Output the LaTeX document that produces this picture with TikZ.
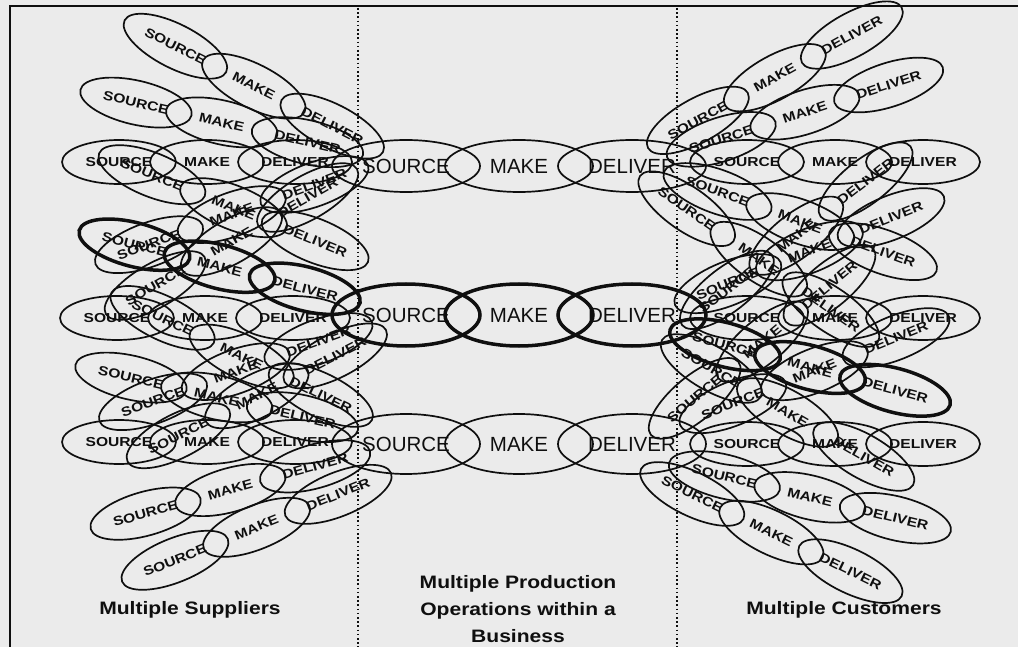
\documentclass[tikz,border=0pt]{standalone}
\usepackage{fontspec}
\setmainfont{Liberation Sans}
\newfontfamily\ringfont{Liberation Sans}[FakeStretch=1.2]
\newfontfamily\labelfont{Liberation Sans}[FakeStretch=1.17]
\usetikzlibrary{shapes.geometric}

\definecolor{paper}{RGB}{235,235,235}
\definecolor{ink}{RGB}{15,15,15}

\tikzset{
  inkline/.style={draw=ink, line width=1.7pt},
  ring/.style={inkline, ellipse, minimum width=114pt, minimum height=44pt, inner sep=0pt,
    text=ink, font=\ringfont\bfseries\fontsize{13}{13}\selectfont},
  heavy/.style={line width=3.5pt},
  core/.style={inkline, ellipse, minimum width=148pt, minimum height=60pt, inner sep=0pt,
    text=ink, font=\fontsize{20.5}{22}\selectfont},
  caption/.style={text=ink, align=center, font=\labelfont\bfseries\fontsize{18}{27}\selectfont},
  dotline/.style={draw=ink, line width=1.7pt, dash pattern=on 1.6pt off 2.6pt},
}

% supplier-side chain: the DELIVER link ends at the pivot (#2,#3), chain tilted by #4
\newcommand\supplychain[5]{%
  \begin{scope}[shift={(#2,#3)}, rotate=#4, transform shape]
    \node[ring,#5] (#1d) at (-57,0) {DELIVER};
    \node[ring,#5] (#1m) at (-145,0) {MAKE};
    \node[ring,#5] (#1s) at (-233,0) {SOURCE};
  \end{scope}}
% customer-side chain: the SOURCE link starts at the pivot (#2,#3), chain tilted by #4
\newcommand\customerchain[5]{%
  \begin{scope}[shift={(#2,#3)}, rotate=#4, transform shape]
    \node[ring,#5] (#1s) at (57,0) {SOURCE};
    \node[ring,#5] (#1m) at (145,0) {MAKE};
    \node[ring,#5] (#1d) at (233,0) {DELIVER};
  \end{scope}}

\begin{document}
\begin{tikzpicture}[x=1pt, y=-1pt]
  \useasboundingbox (0,0) rectangle (1018,647);
  \fill[paper] (0,0) rectangle (1018,647);

  % frame
  \coordinate (fbl) at (10,647);
  \coordinate (ftl) at (10,6);
  \coordinate (ftr) at (1018,6);
  \draw[ink, line width=1.8pt] (fbl) -- (ftl) -- (ftr);

  % column separators
  \coordinate (d1t) at (358,8);   \coordinate (d1b) at (358,647);
  \coordinate (d2t) at (677,8);   \coordinate (d2b) at (677,647);
  \draw[dotline] (d1t) -- (d1b);
  \draw[dotline] (d2t) -- (d2b);

  % supplier fans
  \supplychain{La}{383}{152}{-27}{}
  \supplychain{Lb}{363}{155}{-13}{}
  \supplychain{Lc}{352}{162}{0}{}
  \supplychain{Ld}{368}{165}{20}{}
  \supplychain{Le}{357}{169}{30}{}

  \supplychain{Lf}{368}{262}{-22}{}
  \supplychain{Lg}{350}{318}{0}{}
  \supplychain{Lh}{372}{322}{20}{}
  \supplychain{Li}{386}{330}{27}{}

  \supplychain{Lj}{358}{430}{-13}{}
  \supplychain{Lk}{372}{420}{-26}{}
  \supplychain{Ll}{352}{442}{0}{}
  \supplychain{Lm}{370}{451}{15.6}{}
  \supplychain{Ln}{391}{473}{22}{}

  % customer fans
  \customerchain{Ra}{648}{148}{29}{}
  \customerchain{Rb}{667}{157}{18}{}
  \customerchain{Rc}{690}{162}{0}{}
  \customerchain{Rd}{664}{172}{-20}{}
  \customerchain{Re}{640}{176}{-35}{}

  \customerchain{Rf}{682}{325}{38}{}
  \customerchain{Rg}{675}{305}{22}{}
  \customerchain{Rh}{690}{318}{0}{}
  \customerchain{Ri}{662}{340}{-30}{}

  \customerchain{Rj}{651}{435}{40}{}
  \customerchain{Rk}{680}{425}{22}{}
  \customerchain{Rl}{690}{444}{0}{}
  \customerchain{Rm}{669}{463}{-13.7}{}
  \customerchain{Rn}{641}{469}{-26}{}

  % production operations within the business
  \node[core, minimum height=52pt] (c1s) at (406,166) {SOURCE};
  \node[core, minimum height=52pt] (c1m) at (519,166) {MAKE};
  \node[core, minimum height=52pt] (c1d) at (632,166) {DELIVER};

  \node[core] (c3s) at (406,444) {SOURCE};
  \node[core] (c3m) at (519,444) {MAKE};
  \node[core] (c3d) at (632,444) {DELIVER};

  \node[core, heavy, minimum height=62pt] (c2s) at (406,315) {SOURCE};
  \node[core, heavy, minimum height=62pt] (c2m) at (519,315) {MAKE};
  \node[core, heavy, minimum height=62pt] (c2d) at (632,315) {DELIVER};

  % highlighted end-to-end path
  \supplychain{Lx}{360}{303}{-14.5}{heavy}
  \customerchain{Rx}{670}{330}{-15}{heavy}

  % column captions
  \node[caption] (sup) at (190,610) {Multiple Suppliers};
  \node[caption] (ops) at (518,609) {Multiple Production\\Operations within a\\Business};
  \node[caption] (cus) at (844,610) {Multiple Customers};
\end{tikzpicture}
\end{document}
